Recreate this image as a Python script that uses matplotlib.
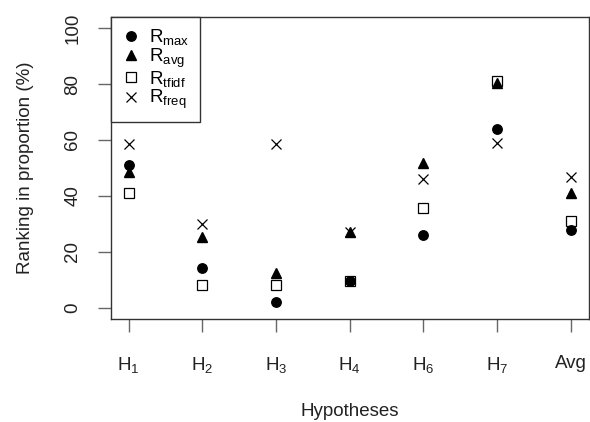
import numpy as np
import matplotlib
matplotlib.use('Agg')
import matplotlib.pyplot as plt
from matplotlib import rcParams

rcParams['font.family'] = 'Liberation Sans'
rcParams['mathtext.fontset'] = 'custom'
rcParams['mathtext.rm'] = 'Liberation Sans'
rcParams['mathtext.it'] = 'Liberation Sans'
rcParams['font.size'] = 13.5

# Data.
hypotheses = ['H$_1$', 'H$_2$', 'H$_3$', 'H$_4$', 'H$_6$', 'H$_7$', 'Avg']
r_max   = [50.9, 14.1, 2.0, 9.7, 26.1, 64.1, 27.9]
r_avg   = [48.6, 25.2, 12.4, 27.2, 51.9, 80.4, 41.2]
r_tfidf = [41.1, 8.2, 8.2, 9.7, 35.6, 81.2, 30.9]
r_freq  = [58.7, 29.9, 58.7, 27.2, 46.2, 59.0, 46.6]

series_labels = [r'R$_{\mathrm{max}}$', r'R$_{\mathrm{avg}}$',
                 r'R$_{\mathrm{tfidf}}$', r'R$_{\mathrm{freq}}$']

x = np.arange(1, len(hypotheses) + 1)

fig = plt.figure(figsize=(5.9, 4.22), dpi=100)
ax = fig.add_axes([0.188, 0.244, 0.8095, 0.716])

ms = 6.8
h_max, = ax.plot(x, r_max, linestyle='none', marker='o', ms=ms, color='black')
h_avg, = ax.plot(x, r_avg, linestyle='none', marker='^', ms=ms + 0.8,
                 color='black')
h_tfidf, = ax.plot(x, r_tfidf, linestyle='none', marker='s', ms=ms,
                   mfc='none', mec='black', mew=0.9)
h_freq, = ax.plot(x, r_freq, linestyle='none', marker='x', ms=ms,
                  color='black', mew=0.9)

ax.set_xlim(0.76, 7.24)
ax.set_ylim(-4, 104)
ax.set_xticks(x)
ax.set_xticklabels(hypotheses)
ax.set_yticks([0, 20, 40, 60, 80, 100])

for spine in ax.spines.values():
    spine.set_color('#333333')
    spine.set_linewidth(1.0)

ax.tick_params(axis='both', direction='out', length=9.4, width=1.0,
               color='#666666', labelcolor='#222222', labelsize=13.5)
ax.tick_params(axis='x', pad=16.5)
ax.tick_params(axis='y', pad=12, labelrotation=90)
for lab in ax.get_yticklabels():
    lab.set_va('center')

ax.set_xlabel('Hypotheses', fontsize=13.5, color='#222222', labelpad=20.5)
ax.set_ylabel('Ranking in proportion (%)', fontsize=13.5, color='#222222',
              labelpad=22)

# trailing space gives the box some room on the right, as in the original
leg = ax.legend([h_max, h_avg, h_tfidf, h_freq],
                [s + r'$\ \,$' for s in series_labels],
                loc='upper left', borderaxespad=0, fancybox=False,
                framealpha=1, edgecolor='#333333', fontsize=13.5,
                handlelength=1.0, handletextpad=0.5, labelspacing=-0.04,
                borderpad=0.55)
leg.get_frame().set_linewidth(1.0)

fig.savefig('out.png', dpi=100)
